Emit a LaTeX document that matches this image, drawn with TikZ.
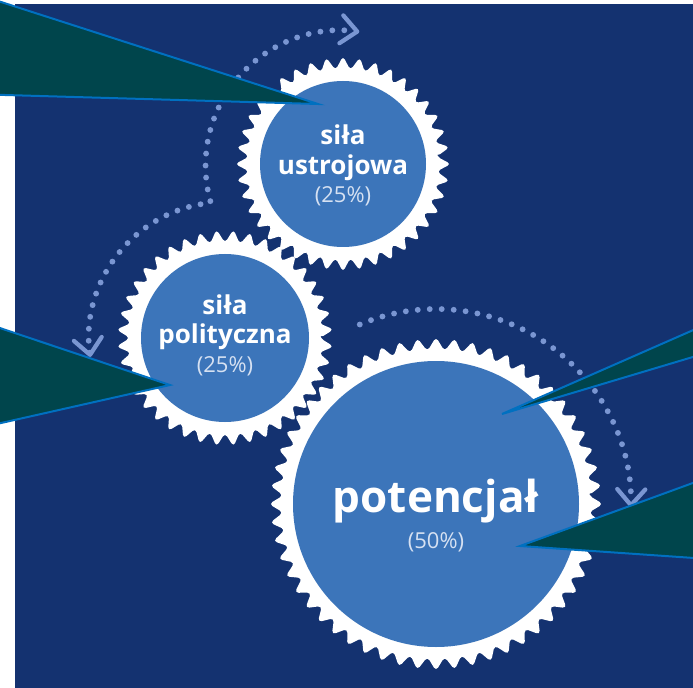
\documentclass[tikz,border=0pt]{standalone}
\usepackage{fontspec}
\setmainfont{Open Sans}
\usetikzlibrary{arrows.meta,positioning}
\definecolor{navy}{RGB}{20,50,112}
\definecolor{gearblue}{RGB}{60,117,186}
\definecolor{dotblue}{RGB}{122,150,210}
\definecolor{calloutfill}{RGB}{0,69,76}
\definecolor{calloutline}{RGB}{0,112,192}
\definecolor{pctwhite}{RGB}{214,225,242}

\begin{document}
\begin{tikzpicture}[x=0.75pt,y=-0.75pt]
	\tikzset{disk/.style={circle,fill=gearblue,inner sep=0pt},
		wheel/.style={fill=white,rounded corners=3pt},
		gearname/.style={anchor=base,text=white,font=\bfseries\fontsize{19.5}{19.5}\selectfont},
		gearpct/.style={anchor=base,text=pctwhite,font=\fontsize{16.5}{16.5}\selectfont},
		flow/.style={draw=dotblue,line width=4.4pt,line cap=round,dash pattern=on 0pt off 9pt,
			>={Straight Barb[length=12pt,width=21pt,line width=3.2pt,round]}},
		callout/.style={fill=calloutfill,draw=calloutline,line width=1.5pt}}
	\useasboundingbox (0,0) rectangle (693,688);
	\clip (0,0) rectangle (693,688);
	\fill[navy] (15,4) rectangle (693,688);
	% wheels
	\path[wheel,shift={(343,164)}] (-4.5:94) \foreach \k in {0,...,39}
		{-- ({\k*9}:108) -- ({(\k+0.5)*9}:94)} -- cycle;
	\path[wheel,shift={(225,338)}] (0:95) \foreach \k in {0,...,39}
		{-- ({(\k+0.5)*9}:109) -- ({(\k+1)*9}:95)} -- cycle;
	\path[wheel,shift={(436,504)}] (-3.214:153) \foreach \k in {0,...,55}
		{-- ({\k*45/7}:167) -- ({(\k+0.5)*45/7}:153)} -- cycle;
	\node[disk,minimum size=124.5pt] (ustr) at (343,164) {};
	\node[disk,minimum size=126pt] (pol) at (225,338) {};
	\node[disk,minimum size=214.5pt] (pot) at (436,504) {};
	% labels
	\node[gearname] (ustr1) at (343,145) {siła};
	\node[gearname] (ustr2) at (343,175) {ustrojowa};
	\node[gearpct] (ustr3) at (343,203) {(25\%)};
	\node[gearname] (pol1) at (225,315) {siła};
	\node[gearname] (pol2) at (225,343) {polityczna};
	\node[gearpct] (pol3) at (225,372) {(25\%)};
	\node[gearname,font=\bfseries\fontsize{33}{33}\selectfont] (pot1) at (436,512) {potencjał};
	\node[gearpct] (pot2) at (436,548) {(50\%)};
	% rotation
	\draw[flow,<->] ([shift={(188:102pt)}]pol.center) arc[start angle=188,end angle=96,radius=102pt]
		arc[start angle=196,end angle=82,radius=101.25pt];
	\draw[flow,->] ([shift={(113:146.25pt)}]pot.center) arc[start angle=113,end angle=-1,radius=146.25pt];
	% callouts
	\draw[callout] (318,104) -- (-30,-8) -- (-30,94) -- cycle;
	\draw[callout] (170,385) -- (-30,318) -- (-30,430) -- cycle;
	\draw[callout] (502,414) -- (723,317) -- (723,348) -- cycle;
	\draw[callout] (520,546) -- (723,472) -- (723,560) -- cycle;
\end{tikzpicture}
\end{document}
